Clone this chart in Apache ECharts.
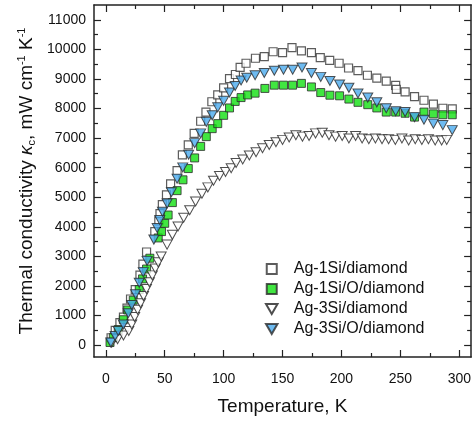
<!DOCTYPE html>
<html><head><meta charset="utf-8">
<script src="https://cdn.jsdelivr.net/npm/echarts@6/dist/echarts.min.js"></script>
<style>html,body{margin:0;padding:0;background:#fff}#c{width:474px;height:421px}</style>
</head><body><div id="c"></div>
<script>
const seriesNames = ['Ag-1Si/diamond', 'Ag-1Si/O/diamond', 'Ag-3Si/diamond', 'Ag-3Si/O/diamond'];

const t1 = [4.5,8,12,15,18,21,25,29,31.5,34.6,41.6,45,46,48,51.5,55,60.5,65,70,75,80.5,85,90,95,100,105,110,114,119,127,134.5,142,150,158,166,174.5,182,190,198,206,214,222,230,238,246,246.5,254,262,270,278,286,294];
const v1 = [250,500,760,950,1250,1560,1880,2370,2740,3150,3840,4200,4450,4750,5080,5450,5900,6430,6770,7160,7570,7880,8230,8460,8700,9010,9150,9390,9530,9700,9755,9920,9890,10060,9950,9890,9720,9630,9530,9370,9280,9125,9025,8925,8780,8650,8560,8400,8280,8150,8010,7990];

const t2 = [3.6,6.4,10.6,14.9,18.6,23.3,28.4,31.2,34.6,37.4,44.5,47.3,50,52.9,56.5,60.5,65.5,70,75.4,80.5,85.3,90.3,95,100,105,109.8,114.8,120.4,126.7,135,143,150.8,158.5,166,174.5,182.4,190.2,198.4,206.3,214,222.3,230,238,246,254,262,270,278,286,294];
const v2 = [90,255,530,860,1190,1520,1880,2240,2575,2940,3625,3840,4120,4400,4820,5225,5590,5970,6330,6720,7050,7320,7490,7770,8020,8240,8370,8460,8520,8680,8790,8790,8790,8850,8730,8540,8450,8430,8320,8210,8130,8020,7880,7880,7840,7710,7880,7820,7790,7790];

const t3 = [5,10,15,19.5,22,24.5,27,29.5,32,34.5,37,39.5,42,44.5,47,52,56.5,61.3,66.1,71.2,76.2,81.6,86.6,91.4,96.5,101.6,106.4,110.6,116.2,121.8,127.5,133,138.7,144.4,150,155.6,161.3,166.9,172.5,178,183.7,189.4,195,200.6,206.3,212,217.5,223.2,228.8,234.4,240,245.7,251.3,257,262.6,268.2,273.8,279.5,285,289.3];
const v3 = [80,200,330,480,700,950,1200,1420,1660,1900,2130,2360,2590,2800,3000,3400,3730,4010,4310,4560,4860,5120,5335,5560,5720,5855,5980,6160,6280,6410,6520,6660,6770,6860,6940,7020,7100,7050,7070,7160,7180,7100,7050,7070,6990,7070,6990,6960,6990,6960,6960,6940,6990,6920,6960,6940,6960,6920,6920,6940];

const t4 = [4.2,7.9,10.6,14.9,19.1,22,25.3,28.4,31.8,35.1,40.8,43.6,45.8,48.1,52,55.7,60.5,65.3,70.3,75.4,80.5,85.3,90.3,95,100,105,109.8,114.8,119.6,126.7,134.5,143,150.8,158.6,166.5,174.5,182.4,190.2,198.4,206.3,214,222.3,230,238,246,254,262,270,278,286,294];
const v4 = [90,310,480,700,1080,1360,1720,2110,2470,2850,3570,3960,4230,4510,4790,5170,5630,6010,6440,6830,7160,7550,7770,8040,8260,8540,8760,8950,9040,9125,9200,9280,9310,9310,9390,9200,9070,8930,8810,8700,8510,8370,8210,8010,7910,7880,7710,7620,7490,7440,7270];

const xMajorTicks = [0,50,100,150,200,250,300];
const xMinorTicks = [25,75,125,175,225,275];
const yMajorTicks = [0,1000,2000,3000,4000,5000,6000,7000,8000,9000,10000,11000];
const yMinorTicks = [500,1500,2500,3500,4500,5500,6500,7500,8500,9500,10500];
const xRange = [-10, 310];
const yRange = [-400, 11500];

function pairs(t, v) { return t.map((x, i) => [x, v[i]]); }

const FONT = 'Liberation Sans, Arial, sans-serif';
const LINE = '#222';
const downTri = 'path://M0,0L10,0L5,8.7Z';
const square = 'path://M0,0L10,0L10,10L0,10Z';

function xAxisDef(pos, ticks, len, main) {
  return {
    type: 'value', position: pos, min: xRange[0], max: xRange[1],
    splitLine: { show: false },
    axisLine: { show: main, onZero: false, lineStyle: { color: LINE, width: 1.5 } },
    axisTick: { show: true, inside: true, length: len, customValues: ticks, lineStyle: { color: LINE, width: 1.2 } },
    axisLabel: { show: false }
  };
}
function yAxisDef(pos, ticks, len, main) {
  return {
    type: 'value', position: pos, min: yRange[0], max: yRange[1],
    splitLine: { show: false },
    axisLine: { show: main, onZero: false, lineStyle: { color: LINE, width: 1.5 } },
    axisTick: { show: true, inside: true, length: len, customValues: ticks, lineStyle: { color: LINE, width: 1.2 } },
    axisLabel: { show: false }
  };
}

const xMain = xAxisDef('bottom', xMajorTicks, 7, true);
xMain.axisLabel = { show: true, customValues: xMajorTicks, margin: 15, color: '#111', fontSize: 14, fontFamily: FONT, formatter: v => String(v) };
xMain.name = 'Temperature, K';
xMain.nameLocation = 'middle';
xMain.nameGap = 40;
xMain.nameMoveOverlap = false;
xMain.nameTextStyle = { fontSize: 19, color: '#111', fontFamily: FONT };

const yMain = yAxisDef('left', yMajorTicks, 7, true);
yMain.axisLabel = { show: true, customValues: yMajorTicks, margin: 8, color: '#111', fontSize: 14, fontFamily: FONT, formatter: v => String(v) };
yMain.name = '{a|Thermal conductivity }{k|κ}{s|c}{a|, mW cm}{p|-1}{a| K}{p|-1}';
yMain.nameLocation = 'middle';
yMain.nameGap = 56;
yMain.nameMoveOverlap = false;
yMain.nameRotate = 90;
yMain.nameTextStyle = {
  color: '#111', fontFamily: FONT, fontSize: 19,
  rich: {
    a: { fontSize: 19, fontFamily: FONT, color: '#111', lineHeight: 22, verticalAlign: 'middle' },
    k: { fontSize: 19, fontFamily: FONT, fontStyle: 'italic', color: '#111', lineHeight: 22, verticalAlign: 'middle' },
    s: { fontSize: 11, fontFamily: FONT, color: '#111', lineHeight: 22, padding: [10, 0, 0, 0], verticalAlign: 'middle' },
    p: { fontSize: 11, fontFamily: FONT, color: '#111', lineHeight: 22, padding: [0, 0, 10, 0], verticalAlign: 'middle' }
  }
};

const option = {
  animation: false,
  backgroundColor: '#fff',
  grid: { left: 94, right: 2, top: 5, bottom: 57, containLabel: false },
  xAxis: [
    xMain,
    xAxisDef('bottom', xMinorTicks, 4, false),
    xAxisDef('top', xMajorTicks, 7, true),
    xAxisDef('top', xMinorTicks, 4, false)
  ],
  yAxis: [
    yMain,
    yAxisDef('left', yMinorTicks, 4, false),
    yAxisDef('right', yMajorTicks, 7, true),
    yAxisDef('right', yMinorTicks, 4, false)
  ],
  legend: {
    orient: 'vertical', left: 260, top: 256,
    itemWidth: 34, itemHeight: 10, itemGap: 4,
    textStyle: { fontSize: 16, lineHeight: 16, color: '#111', fontFamily: FONT },
    data: [
      { name: seriesNames[0], icon: square },
      { name: seriesNames[1], icon: square },
      { name: seriesNames[2], icon: downTri },
      { name: seriesNames[3], icon: downTri }
    ]
  },
  series: [
    { name: seriesNames[0], type: 'scatter', data: pairs(t1, v1), symbol: square, symbolSize: 8,
      itemStyle: { color: '#fff', borderColor: '#333', borderWidth: 1.2 } },
    { name: seriesNames[1], type: 'scatter', data: pairs(t2, v2), symbol: square, symbolSize: 8,
      itemStyle: { color: '#11e011', borderColor: '#2a2a2a', borderWidth: 1 } },
    { name: seriesNames[2], type: 'scatter', data: pairs(t3, v3), symbol: downTri, symbolSize: [10, 9],
      itemStyle: { color: '#fff', borderColor: '#222', borderWidth: 1 } },
    { name: seriesNames[3], type: 'scatter', data: pairs(t4, v4), symbol: downTri, symbolSize: [10, 9],
      itemStyle: { color: '#4aaaee', borderColor: '#2a2a2a', borderWidth: 1 } }
  ]
};
echarts.init(document.getElementById('c'), null, { renderer: 'canvas' }).setOption(option);
</script></body></html>
